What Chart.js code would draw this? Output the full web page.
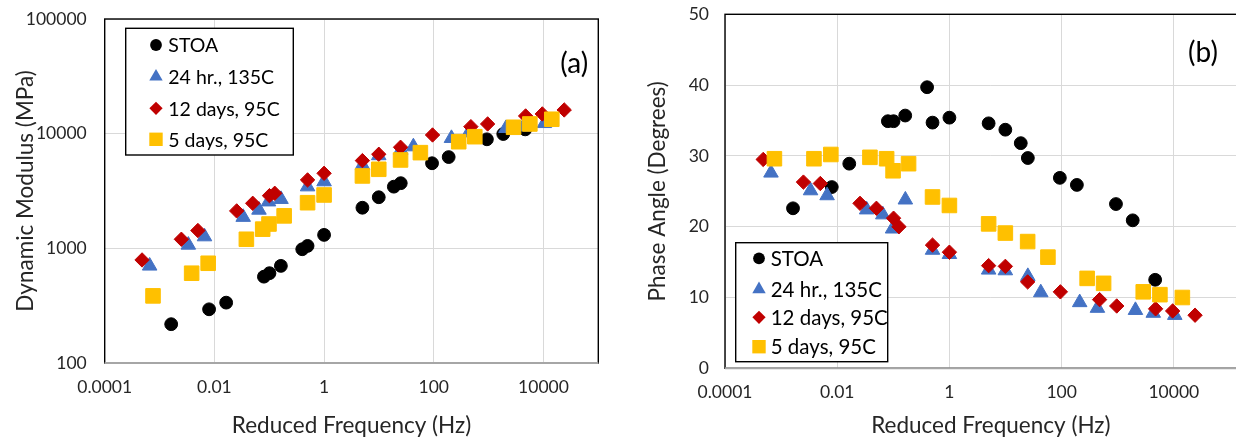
<!DOCTYPE html>
<html>
<head>
<meta charset="utf-8">
<script src="https://cdn.jsdelivr.net/npm/chart.js@4.4.1/dist/chart.umd.min.js"></script>
<style>
  html, body { margin: 0; padding: 0; background: #fff; overflow: hidden; }
  body { width: 1236px; height: 439px; position: relative; }
  .panel { position: absolute; top: 0; height: 439px; }
  #boxA { left: 0; width: 618px; }
  #boxB { left: 618px; width: 650px; }
</style>
</head>
<body>
<div class="panel" id="boxA"><canvas id="modChart"></canvas></div>
<div class="panel" id="boxB"><canvas id="phaseChart"></canvas></div>
<script>
// ---- data ----
const SERIES_NAMES = ["STOA", "24 hr., 135C", "12 days, 95C", "5 days, 95C"];

// reduced frequency (Hz), shared by both panels
const STOA_FREQ   = [0.00163, 0.0080, 0.0164, 0.080, 0.101, 0.163, 0.40, 0.50, 1.0, 5.0, 9.93, 18.7, 25, 93, 187, 930, 1850, 4650];
const HR24_FREQ   = [0.00066, 0.00335, 0.0066, 0.0335, 0.065, 0.097, 0.164, 0.50, 1.0, 5.0, 9.93, 25, 42.5, 210, 435, 2070, 4300, 10400];
const DAY12_FREQ  = [0.00048, 0.0025, 0.0050, 0.0255, 0.050, 0.101, 0.126, 0.50, 1.0, 5.0, 9.93, 24.8, 95, 475, 960, 4730, 9530, 23900];
const DAY5_FREQ   = [0.00076, 0.00385, 0.0077, 0.0383, 0.076, 0.099, 0.187, 0.50, 1.0, 5.0, 9.93, 24.8, 57, 285, 560, 2850, 5650, 14200];

// dynamic modulus (MPa)
const STOA_MOD    = [218, 294, 336, 566, 607, 703, 982, 1050, 1310, 2260, 2790, 3450, 3700, 5520, 6250, 8930, 9930, 10900];
const HR24_MOD    = [703, 1070, 1265, 1870, 2160, 2550, 2680, 3450, 3820, 5330, 6450, 7200, 7710, 9120, 10200, 11140, 11500, 12300];
const DAY12_MOD   = [792, 1200, 1430, 2120, 2470, 2880, 3020, 3950, 4510, 5820, 6610, 7610, 9740, 11510, 12150, 14270, 14860, 16100];
const DAY5_MOD    = [385, 607, 741, 1200, 1470, 1630, 1920, 2500, 2920, 4280, 4890, 5900, 6830, 8510, 9410, 11370, 12150, 13360];

// phase angle (degrees)
const STOA_PHASE  = [22.6, 25.6, 28.9, 34.9, 34.9, 35.7, 39.7, 34.7, 35.4, 34.6, 33.7, 31.8, 29.7, 26.9, 25.9, 23.2, 20.9, 12.5];
const HR24_PHASE  = [27.6, 25.1, 24.4, 22.4, 21.7, 19.7, 23.8, 16.7, 16.1, 13.9, 13.8, 13.0, 10.7, 9.3, 8.5, 8.2, 7.8, 7.5];
const DAY12_PHASE = [29.5, 26.3, 26.1, 23.3, 22.6, 21.2, 20.0, 17.4, 16.4, 14.5, 14.4, 12.2, 10.8, 9.7, 8.8, 8.4, 8.1, 7.5];
const DAY5_PHASE  = [29.6, 29.6, 30.2, 29.8, 29.6, 27.9, 28.9, 24.2, 23.0, 20.4, 19.1, 17.9, 15.7, 12.7, 12.0, 10.8, 10.4, 10.0];

// axis ticks
const FREQ_TICKS = [0.0001, 0.01, 1, 100, 10000];
const FREQ_TICK_LABELS = ["0.0001", "0.01", "1", "100", "10000"];
const MOD_TICKS = [100, 1000, 10000, 100000];
const MOD_TICK_LABELS = ["100", "1000", "10000", "100000"];
const PHASE_TICKS = [0, 10, 20, 30, 40, 50];

// ---- styling ----
const STYLES = [
  { color: "#000000", pointStyle: "circle",   radius: 6.4 },
  { color: "#4472C4", pointStyle: "triangle", radius: 8.4 },
  { color: "#C00000", pointStyle: "rectRot",  radius: 7.2 },
  { color: "#FFC000", pointStyle: "rect",     radius: 10.3 }
];
const GRID = "#d9d9d9";
const TEXT = "#262626";
const FONT = "Lato";
const TICK_SIZE = 17.5;
const TITLE_SIZE = 22.5;

function toPoints(xs, ys) {
  return xs.map((x, i) => ({ x: x, y: ys[i] }));
}

function makeDatasets(yArrays) {
  const freqs = [STOA_FREQ, HR24_FREQ, DAY12_FREQ, DAY5_FREQ];
  return yArrays.map((ys, i) => ({
    label: SERIES_NAMES[i],
    data: toPoints(freqs[i], ys),
    pointStyle: STYLES[i].pointStyle,
    pointRadius: STYLES[i].radius,
    backgroundColor: STYLES[i].color,
    borderColor: STYLES[i].color,
    borderWidth: 1,
    showLine: false,
    order: 4 - i   // yellow squares on top, like the original
  }));
}

// marker shapes for the boxed legend (same geometry as chart.js)
function drawMarker(ctx, style, x, y, r) {
  ctx.beginPath();
  if (style === "circle") {
    ctx.arc(x, y, r, 0, Math.PI * 2);
  } else if (style === "triangle") {
    ctx.moveTo(x, y - r);
    ctx.lineTo(x + Math.sin(2 * Math.PI / 3) * r, y + r / 2);
    ctx.lineTo(x - Math.sin(2 * Math.PI / 3) * r, y + r / 2);
  } else if (style === "rectRot") {
    ctx.moveTo(x - r, y); ctx.lineTo(x, y - r); ctx.lineTo(x + r, y); ctx.lineTo(x, y + r);
  } else {
    const s = Math.SQRT1_2 * r;
    ctx.rect(x - s, y - s, 2 * s, 2 * s);
  }
  ctx.closePath();
  ctx.fill();
}

// plot area frame: black box, grey bottom axis line
const framePlugin = {
  id: "frame",
  beforeDatasetsDraw(chart) {
    const { ctx, chartArea: a } = chart;
    ctx.save();
    ctx.strokeStyle = "#000";
    ctx.lineWidth = 1.4;
    ctx.strokeRect(a.left, a.top, a.right - a.left, a.bottom - a.top);
    ctx.strokeStyle = "#a6a6a6";
    ctx.lineWidth = 2;
    ctx.beginPath();
    ctx.moveTo(a.left, a.bottom);
    ctx.lineTo(a.right, a.bottom);
    ctx.stroke();
    ctx.restore();
  }
};

// boxed legend inside the plot + panel tag "(a)" / "(b)"
const boxLegendPlugin = {
  id: "boxLegend",
  afterDatasetsDraw(chart, args, opts) {
    const { ctx, chartArea: a } = chart;
    const bx = a.left + opts.x, by = a.top + opts.y;
    ctx.save();
    ctx.fillStyle = "#fff";
    ctx.fillRect(bx, by, opts.w, opts.h);
    ctx.strokeStyle = "#000";
    ctx.lineWidth = 1.4;
    ctx.strokeRect(bx, by, opts.w, opts.h);
    ctx.font = opts.fontSize + "px " + FONT;
    ctx.textBaseline = "middle";
    ctx.textAlign = "left";
    SERIES_NAMES.forEach((name, i) => {
      const y = by + opts.rows[i];
      ctx.fillStyle = STYLES[i].color;
      drawMarker(ctx, STYLES[i].pointStyle, bx + opts.markerX, y, STYLES[i].radius * 0.92);
      ctx.fillStyle = "#000";
      ctx.fillText(name, bx + opts.textX, y + 1);
    });
    ctx.font = opts.tagSize + "px " + FONT;
    ctx.textAlign = "center";
    ctx.fillStyle = "#000";
    ctx.fillText(opts.tag, a.left + opts.tagX, a.top + opts.tagY);
    ctx.restore();
  }
};

// label gap is made with an invisible tick, so the layout keeps its top/bottom padding
function freqAxis(height, right) {
  return {
    type: "logarithmic",
    min: 0.0001,
    max: right,
    afterBuildTicks: s => { s.ticks = FREQ_TICKS.map(v => ({ value: v })); },
    afterFit: s => { s.height = height; },
    ticks: {
      autoSkip: false, maxRotation: 0, padding: 0, color: TEXT,
      font: { family: FONT, size: TICK_SIZE },
      callback: (v, i) => FREQ_TICK_LABELS[i]
    },
    grid: { color: GRID, lineWidth: 1, drawTicks: true, tickLength: 14, tickColor: "rgba(0,0,0,0)" },
    border: { display: false },
    title: {
      display: true, text: "Reduced Frequency (Hz)", color: TEXT,
      font: { family: FONT, size: TITLE_SIZE }, padding: { top: 0, bottom: 0 }
    }
  };
}

function draw() {
  Chart.defaults.font.family = FONT;

  new Chart(document.getElementById("modChart"), {
    type: "scatter",
    data: { datasets: makeDatasets([STOA_MOD, HR24_MOD, DAY12_MOD, DAY5_MOD]) },
    plugins: [framePlugin, boxLegendPlugin],
    options: {
      responsive: true, maintainAspectRatio: false, animation: false, events: [],
      layout: { padding: { left: 0, top: 19, right: 19.7, bottom: 0 } },
      plugins: {
        legend: { display: false }, tooltip: { enabled: false },
        boxLegend: {
          x: 21, y: 9.3, w: 167.6, h: 126.7, rows: [16.7, 48.4, 80, 111],
          markerX: 30.3, textX: 42.6, fontSize: 19.5,
          tag: "(a)", tagX: 469.5, tagY: 45, tagSize: 28
        }
      },
      scales: {
        x: freqAxis(76, 100000),
        y: {
          type: "logarithmic", min: 100, max: 100000,
          afterBuildTicks: s => { s.ticks = MOD_TICKS.map(v => ({ value: v })); },
          afterFit: s => { s.width = 104.7; },
          ticks: {
            autoSkip: false, padding: 0, color: TEXT,
            font: { family: FONT, size: TICK_SIZE },
            callback: (v, i) => MOD_TICK_LABELS[i]
          },
          grid: { color: GRID, lineWidth: 1, drawTicks: true, tickLength: 18, tickColor: "rgba(0,0,0,0)" },
          border: { display: false },
          title: {
            display: true, text: "Dynamic Modulus (MPa)", color: TEXT,
            font: { family: FONT, size: TITLE_SIZE }, padding: { top: 12, bottom: 0 }
          }
        }
      }
    }
  });

  new Chart(document.getElementById("phaseChart"), {
    type: "scatter",
    data: { datasets: makeDatasets([STOA_PHASE, HR24_PHASE, DAY12_PHASE, DAY5_PHASE]) },
    plugins: [framePlugin, boxLegendPlugin],
    options: {
      responsive: true, maintainAspectRatio: false, animation: false, events: [],
      layout: { padding: { left: 0, top: 14.3, right: 3.8, bottom: 0 } },
      plugins: {
        legend: { display: false }, tooltip: { enabled: false },
        boxLegend: {
          x: 10.7, y: 228.4, w: 152, h: 119, rows: [15.6, 46.6, 74.6, 104],
          markerX: 23.3, textX: 35, fontSize: 20.5,
          tag: "(b)", tagX: 478, tagY: 38.7, tagSize: 28
        }
      },
      scales: {
        x: freqAxis(70.7, 300000),
        y: {
          type: "linear", min: 0, max: 50,
          afterBuildTicks: s => { s.ticks = PHASE_TICKS.map(v => ({ value: v })); },
          afterFit: s => { s.width = 107; },
          ticks: {
            autoSkip: false, padding: 0, color: TEXT,
            font: { family: FONT, size: TICK_SIZE }
          },
          grid: { color: GRID, lineWidth: 1, drawTicks: true, tickLength: 16, tickColor: "rgba(0,0,0,0)" },
          border: { display: false },
          title: {
            display: true, text: "Phase Angle (Degrees)", color: TEXT,
            font: { family: FONT, size: TITLE_SIZE }, padding: { top: 26.5, bottom: 0 }
          }
        }
      }
    }
  });
}

if (document.fonts && document.fonts.load) {
  Promise.all([document.fonts.load("16px Lato"), document.fonts.load("22px Lato")]).then(draw, draw);
} else {
  draw();
}
</script>
</body>
</html>
